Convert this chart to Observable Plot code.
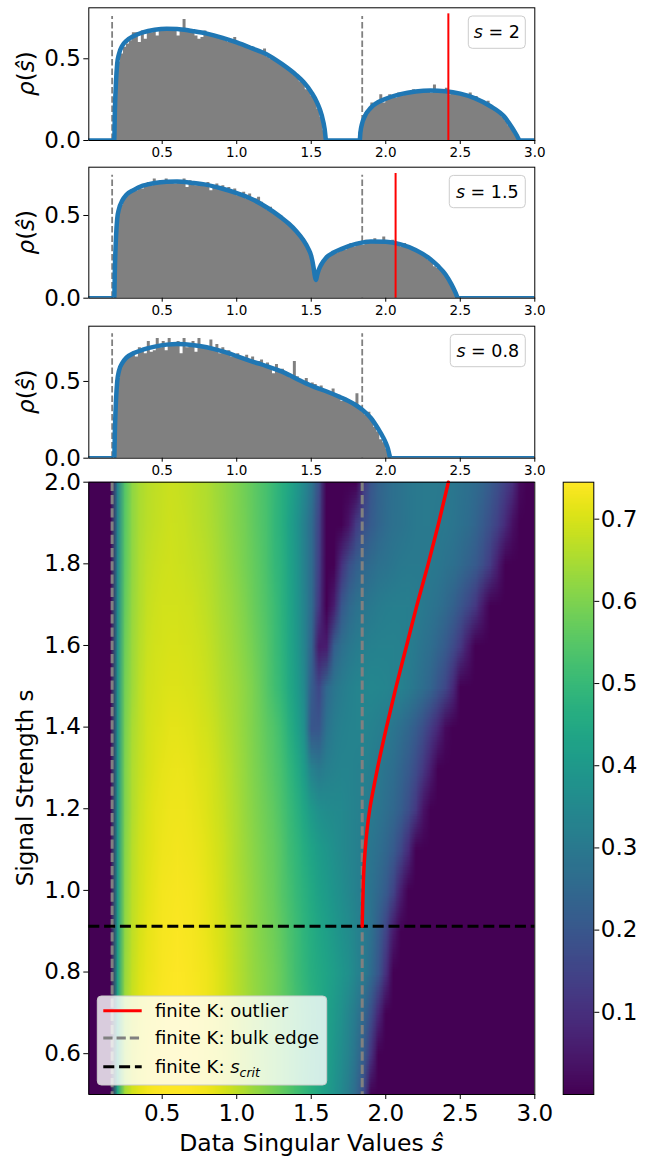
<!DOCTYPE html>
<html><head><meta charset="utf-8">
<script src="https://cdn.jsdelivr.net/npm/d3@7"></script>
<script src="https://cdn.jsdelivr.net/npm/@observablehq/plot@0.6"></script>
<style>
html,body{margin:0;padding:0;background:#fff;}
#root{position:relative;width:645px;height:1168px;font-family:"DejaVu Sans",sans-serif;overflow:hidden;}
.wrap{position:absolute;}
</style></head>
<body><div id="root"></div>
<script>
// ---------------- data ----------------
const xDomain = [0.0075, 3.0];
const xTicks = [0.5, 1.0, 1.5, 2.0, 2.5, 3.0];
const panelYTicks = [0.0, 0.5];
const heatYTicks = [0.6, 0.8, 1.0, 1.2, 1.4, 1.6, 1.8, 2.0];
const cbTicks = [0.1, 0.2, 0.3, 0.4, 0.5, 0.6, 0.7];
const colorDomain = [0, 0.745];
const sDomain = [0.5, 2.0];

const bulkEdges = [0.164, 1.842];
const sCrit = 0.912;

const panelS = ["2", "1.5", "0.8"];
const panelYMax = [0.812, 0.792, 0.86];
const panelOutlier = [2.42, 2.066, null];
const panelOutlierTop = [0.775, 0.754, null];
const panelEdgeTop = [0.759, 0.744, 0.81];

const histStart = 0.18;
const binWidth = 0.02;
const hist1 = [
  0.30,0.48,0.53,0.57,0.59,0.61,0.66,0.66,0.60,0.67,
  0.62,0.66,0.66,0.67,0.64,0.67,0.68,0.67,0.68,0.67,
  0.68,0.64,0.68,0.74,0.68,0.67,0.66,0.64,0.62,0.63,
  0.67,0.66,0.64,0.64,0.63,0.62,0.62,0.61,0.60,0.61,
  0.63,0.59,0.58,0.58,0.57,0.56,0.56,0.55,0.54,0.53,
  0.56,0.51,0.50,0.49,0.48,0.47,0.46,0.44,0.43,0.42,
  0.40,0.39,0.36,0.35,0.31,0.31,0.27,0.25,0.19,0.14,
  0.06,
  0,0,0,0,0,0,0,0,0,0,0,
  0.05,0.11,0.17,0.19,0.23,0.22,0.24,0.28,0.23,0.26,
  0.28,0.27,0.26,0.29,0.27,0.28,0.30,0.29,0.31,0.30,
  0.29,0.31,0.30,0.31,0.29,0.34,0.30,0.31,0.29,0.32,
  0.28,0.30,0.29,0.28,0.29,0.27,0.28,0.29,0.26,0.27,
  0.25,0.24,0.23,0.24,0.21,0.20,0.18,0.16,0.14,0.12,
  0.09,0.07,0.04,0.01
];
const hist2 = [
  0.30,0.50,0.56,0.60,0.62,0.64,0.66,0.65,0.67,0.66,
  0.69,0.70,0.68,0.72,0.69,0.71,0.70,0.72,0.70,0.70,
  0.69,0.71,0.70,0.72,0.67,0.71,0.69,0.68,0.70,0.69,
  0.68,0.70,0.65,0.67,0.69,0.66,0.68,0.65,0.67,0.64,
  0.66,0.62,0.63,0.64,0.60,0.63,0.59,0.60,0.61,0.58,
  0.56,0.53,0.55,0.51,0.50,0.50,0.48,0.47,0.45,0.44,
  0.42,0.40,0.38,0.36,0.32,0.29,0.22,0.12,0.16,0.20,
  0.23,0.25,0.26,0.28,0.27,0.29,0.30,0.29,0.31,0.33,
  0.31,0.33,0.34,0.32,0.35,0.33,0.34,0.36,0.34,0.33,
  0.37,0.34,0.33,0.35,0.32,0.33,0.31,0.33,0.30,0.31,
  0.29,0.28,0.27,0.26,0.25,0.23,0.22,0.19,0.18,0.17,
  0.16,0.13,0.10,0.07,0.03,0.01
];
const hist3 = [
  0.30,0.52,0.60,0.63,0.66,0.67,0.69,0.66,0.72,0.70,
  0.68,0.76,0.69,0.70,0.78,0.72,0.76,0.70,0.78,0.73,
  0.74,0.76,0.68,0.78,0.72,0.74,0.76,0.69,0.78,0.72,
  0.73,0.71,0.77,0.70,0.74,0.68,0.72,0.69,0.70,0.66,
  0.67,0.68,0.66,0.65,0.67,0.64,0.66,0.62,0.63,0.64,
  0.60,0.62,0.59,0.55,0.61,0.57,0.58,0.56,0.55,0.52,
  0.63,0.53,0.51,0.50,0.52,0.47,0.49,0.48,0.46,0.47,
  0.43,0.44,0.42,0.45,0.40,0.41,0.37,0.39,0.38,0.37,
  0.36,0.42,0.32,0.30,0.28,0.30,0.25,0.20,0.17,0.12,
  0.10,0.06,0.02
];

const curve1X = [0.0075,0.178,0.183,0.19,0.198,0.21,0.232,0.26,0.31,0.37,0.45,0.53,0.6,0.7,0.8,0.9,1.0,1.1,1.2,1.3,1.4,1.45,1.5,1.54,1.57,1.59,1.6,1.825,1.83,1.84,1.86,1.9,2.0,2.1,2.2,2.3,2.4,2.5,2.6,2.7,2.8,2.85,2.88,2.9,3.0];
const curve1Y = [0,0,0.2,0.36,0.47,0.53,0.58,0.61,0.64,0.662,0.678,0.684,0.683,0.67,0.654,0.63,0.60,0.565,0.528,0.47,0.40,0.356,0.296,0.23,0.155,0.07,0,0,0.05,0.10,0.15,0.20,0.255,0.284,0.30,0.306,0.302,0.287,0.258,0.211,0.141,0.075,0.03,0,0];
const curve2X = [0.0075,0.178,0.183,0.19,0.198,0.21,0.232,0.26,0.31,0.37,0.45,0.53,0.6,0.7,0.8,0.9,1.0,1.1,1.2,1.3,1.35,1.4,1.45,1.48,1.5,1.515,1.525,1.532,1.54,1.55,1.565,1.6,1.65,1.7,1.8,1.9,2.0,2.1,2.2,2.3,2.35,2.4,2.44,2.47,2.485,3.0];
const curve2Y = [0,0,0.2,0.37,0.48,0.54,0.59,0.625,0.655,0.68,0.697,0.704,0.705,0.697,0.685,0.663,0.635,0.60,0.55,0.487,0.45,0.405,0.347,0.30,0.255,0.19,0.13,0.11,0.14,0.17,0.20,0.245,0.276,0.297,0.328,0.343,0.341,0.325,0.292,0.236,0.195,0.145,0.085,0.03,0,0];
const curve3X = [0.0075,0.178,0.183,0.19,0.198,0.21,0.232,0.26,0.31,0.37,0.45,0.53,0.6,0.65,0.75,0.85,0.95,1.0,1.1,1.2,1.3,1.4,1.5,1.6,1.7,1.75,1.8,1.85,1.9,1.95,1.98,2.0,2.015,2.025,2.03,3.0];
const curve3Y = [0,0,0.2,0.38,0.5,0.57,0.62,0.655,0.685,0.707,0.727,0.74,0.744,0.742,0.731,0.711,0.683,0.665,0.631,0.60,0.566,0.518,0.472,0.436,0.395,0.372,0.345,0.31,0.262,0.19,0.14,0.10,0.06,0.02,0,0];

// outlier trajectory in the (s_hat, s) plane
const outlierS = [0.912,0.93,0.96,1.0,1.05,1.1,1.15,1.2,1.25,1.3,1.4,1.5,1.6,1.7,1.8,1.9,2.0];
const outlierX = [1.842,1.843,1.845,1.848,1.853,1.862,1.875,1.893,1.918,1.945,2.005,2.07,2.14,2.21,2.285,2.355,2.42];

// density heatmap: rows at s = 2.0 ... 0.5 (step 0.1), columns at s_hat = 0.00 ... 3.00 (step 0.05)
const heatS = [2.0,1.9,1.8,1.7,1.6,1.5,1.4,1.3,1.2,1.1,1.0,0.9,0.8,0.7,0.6,0.5];
const heatXStart = 0, heatXEnd = 3, heatCols = 61;
const heatLead = [0,0,0,0];             // s_hat = 0.00 .. 0.15
const heatMain = [                      // s_hat = 0.20 .. 1.20
  [0.33,0.55,0.62,0.65,0.665,0.675,0.68,0.684,0.683,0.678,0.67,0.663,0.655,0.643,0.63,0.615,0.60,0.583,0.565,0.545,0.525],
  [0.34,0.555,0.622,0.652,0.668,0.678,0.683,0.687,0.686,0.681,0.675,0.668,0.659,0.647,0.634,0.619,0.605,0.588,0.57,0.549,0.528],
  [0.35,0.56,0.625,0.655,0.673,0.682,0.687,0.69,0.689,0.685,0.68,0.673,0.664,0.652,0.639,0.624,0.61,0.593,0.574,0.553,0.531],
  [0.36,0.57,0.63,0.66,0.68,0.688,0.693,0.695,0.695,0.692,0.687,0.68,0.671,0.659,0.646,0.632,0.618,0.601,0.582,0.561,0.538],
  [0.37,0.58,0.635,0.665,0.685,0.693,0.698,0.70,0.70,0.698,0.694,0.687,0.679,0.667,0.654,0.641,0.627,0.61,0.592,0.57,0.545],
  [0.38,0.59,0.64,0.67,0.69,0.698,0.703,0.705,0.705,0.703,0.70,0.693,0.685,0.673,0.66,0.648,0.635,0.618,0.60,0.578,0.55],
  [0.38,0.595,0.65,0.675,0.694,0.704,0.71,0.713,0.714,0.712,0.708,0.701,0.693,0.681,0.668,0.654,0.64,0.622,0.604,0.583,0.56],
  [0.385,0.60,0.655,0.68,0.698,0.709,0.716,0.72,0.722,0.72,0.716,0.71,0.702,0.69,0.677,0.661,0.644,0.626,0.607,0.588,0.568],
  [0.39,0.605,0.66,0.685,0.702,0.713,0.721,0.725,0.727,0.725,0.721,0.715,0.707,0.695,0.682,0.666,0.649,0.631,0.613,0.595,0.577],
  [0.395,0.61,0.665,0.69,0.707,0.718,0.726,0.73,0.732,0.73,0.726,0.72,0.712,0.70,0.687,0.671,0.654,0.637,0.619,0.601,0.584],
  [0.40,0.615,0.67,0.695,0.712,0.723,0.731,0.735,0.737,0.735,0.731,0.725,0.717,0.705,0.692,0.675,0.658,0.641,0.623,0.606,0.59],
  [0.41,0.62,0.675,0.70,0.716,0.727,0.735,0.739,0.741,0.739,0.735,0.729,0.721,0.709,0.696,0.679,0.662,0.645,0.627,0.611,0.596],
  [0.42,0.63,0.68,0.705,0.72,0.73,0.738,0.742,0.744,0.742,0.738,0.732,0.725,0.713,0.70,0.682,0.665,0.648,0.63,0.615,0.60],
  [0.43,0.64,0.688,0.712,0.727,0.735,0.741,0.745,0.746,0.744,0.74,0.734,0.727,0.715,0.701,0.685,0.668,0.651,0.633,0.617,0.601],
  [0.44,0.645,0.694,0.717,0.731,0.739,0.744,0.747,0.747,0.745,0.741,0.735,0.727,0.716,0.702,0.687,0.671,0.654,0.636,0.619,0.602],
  [0.44,0.645,0.695,0.718,0.732,0.74,0.745,0.748,0.748,0.746,0.742,0.736,0.728,0.717,0.703,0.688,0.672,0.655,0.637,0.62,0.603]
];
const heatTail = [                      // s_hat = 1.25 onward, zero beyond the last value
  [0.50,0.47,0.44,0.40,0.35,0.29,0.18,0,0,0,0,0,0.12,0.20,0.235,0.255,0.272,0.285,0.294,0.30,0.304,0.306,0.305,0.30,0.294,0.285,0.272,0.258,0.24,0.21,0.18,0.14,0.10,0.02],
  [0.495,0.47,0.43,0.385,0.325,0.26,0.15,0,0,0,0.04,0.13,0.18,0.215,0.24,0.26,0.275,0.285,0.293,0.30,0.303,0.304,0.302,0.298,0.29,0.278,0.262,0.24,0.212,0.18,0.14,0.09,0.03],
  [0.50,0.475,0.435,0.39,0.33,0.26,0.14,0,0,0.10,0.18,0.22,0.245,0.26,0.275,0.285,0.293,0.30,0.303,0.305,0.304,0.30,0.295,0.285,0.272,0.255,0.235,0.21,0.175,0.13,0.06],
  [0.51,0.48,0.44,0.395,0.335,0.26,0.12,0,0.06,0.20,0.25,0.275,0.29,0.30,0.31,0.315,0.318,0.32,0.318,0.312,0.30,0.29,0.275,0.255,0.23,0.20,0.165,0.12,0.05],
  [0.515,0.485,0.445,0.40,0.34,0.24,0.05,0.06,0.22,0.27,0.295,0.31,0.32,0.325,0.328,0.33,0.328,0.325,0.315,0.30,0.285,0.265,0.24,0.21,0.17,0.12,0.05],
  [0.52,0.49,0.45,0.41,0.35,0.22,0.16,0.25,0.29,0.31,0.325,0.335,0.34,0.344,0.342,0.34,0.33,0.325,0.31,0.29,0.265,0.24,0.20,0.16,0.09],
  [0.54,0.51,0.47,0.43,0.37,0.20,0.20,0.28,0.31,0.325,0.333,0.335,0.335,0.33,0.32,0.31,0.29,0.27,0.245,0.215,0.18,0.13,0.08,0.02],
  [0.55,0.525,0.49,0.455,0.41,0.33,0.30,0.32,0.33,0.335,0.335,0.33,0.325,0.315,0.30,0.285,0.265,0.24,0.21,0.17,0.12,0.06],
  [0.56,0.535,0.505,0.475,0.44,0.40,0.37,0.36,0.355,0.35,0.34,0.33,0.32,0.305,0.29,0.27,0.25,0.22,0.18,0.12,0.04],
  [0.57,0.545,0.515,0.49,0.46,0.435,0.41,0.39,0.37,0.355,0.34,0.325,0.31,0.29,0.27,0.245,0.21,0.16,0.09],
  [0.575,0.55,0.525,0.50,0.475,0.45,0.425,0.405,0.385,0.365,0.345,0.325,0.305,0.28,0.25,0.21,0.15,0.06],
  [0.58,0.56,0.535,0.51,0.485,0.46,0.44,0.42,0.40,0.38,0.36,0.335,0.31,0.275,0.22,0.15,0.05],
  [0.585,0.565,0.54,0.515,0.49,0.468,0.45,0.435,0.415,0.395,0.37,0.34,0.31,0.26,0.20,0.10],
  [0.587,0.567,0.548,0.526,0.503,0.48,0.455,0.43,0.403,0.373,0.34,0.30,0.25,0.18,0.08],
  [0.585,0.566,0.546,0.523,0.499,0.475,0.45,0.423,0.395,0.363,0.326,0.28,0.22,0.11],
  [0.585,0.565,0.545,0.52,0.495,0.47,0.445,0.415,0.385,0.35,0.31,0.255,0.17]
];

// ---------------- build ----------------
const root = document.getElementById("root");
const FONT = "DejaVu Sans";
const baseStyle = {fontFamily: FONT, background: "transparent", overflow: "visible"};
const FL = 88.3, FR = 534.3;   // frame left / right (page px)

function place(svg, left, top, width) {
  const w = document.createElement("div");
  w.className = "wrap";
  w.style.left = left + "px"; w.style.top = top + "px"; w.style.width = width + "px";
  w.appendChild(svg);
  root.appendChild(w);
}

const histData = [hist1, hist2, hist3];
const curveX = [curve1X, curve2X, curve3X];
const curveY = [curve1Y, curve2Y, curve3Y];
const panelTop = [0, 160, 318];
const panelMT = [7.3, 6.7, 7.7];
const panelFH = [132.7, 131, 132];

for (let i = 0; i < 3; ++i) {
  const hist = histData[i];
  const steps = hist.map((h, k) => ({x: histStart + k * binWidth, h}))
    .concat([{x: histStart + hist.length * binWidth, h: 0}]);
  const curve = curveX[i].map((x, k) => ({x, y: curveY[i][k]}));
  const mt = panelMT[i], fh = panelFH[i], mb = 28;
  const marks = [
    Plot.areaY(steps, {x: "x", y: "h", curve: "step-after", fill: "gray"}),
    Plot.ruleX(bulkEdges, {y1: 0, y2: panelEdgeTop[i], stroke: "gray", strokeWidth: 1.8, strokeDasharray: "6.5,2.8"}),
    Plot.line(curve, {x: "x", y: "y", stroke: "#1f77b4", strokeWidth: 4.5, curve: "monotone-x", clip: true, strokeLinejoin: "round"})
  ];
  if (panelOutlier[i] != null) marks.push(Plot.ruleX([panelOutlier[i]], {y1: 0, y2: panelOutlierTop[i], stroke: "red", strokeWidth: 2}));
  marks.push(
    Plot.frame({stroke: "black", strokeWidth: 1}),
    Plot.axisX({ticks: xTicks, tickFormat: ".1f", fontSize: 13.5, tickSize: 4, tickPadding: 3, label: null}),
    Plot.axisY({ticks: panelYTicks, tickFormat: ".1f", fontSize: 23, tickSize: 5, tickPadding: 3, label: null})
  );
  const svg = Plot.plot({
    width: 645, height: mt + fh + mb,
    marginLeft: FL, marginRight: 645 - FR, marginTop: mt, marginBottom: mb,
    x: {domain: xDomain, label: null},
    y: {domain: [0, panelYMax[i]], label: null},
    style: baseStyle,
    marks
  });
  const s = d3.select(svg);
  const yl = s.append("text")
    .attr("transform", `translate(26,${mt + fh / 2}) rotate(-90)`)
    .attr("text-anchor", "middle").attr("dy", "0.35em")
    .style("font-family", FONT).style("font-size", "23px").attr("fill", "black");
  yl.append("tspan").style("font-style", "italic").text("ρ");
  yl.append("tspan").text("(");
  yl.append("tspan").style("font-style", "italic").text("ŝ");
  yl.append("tspan").text(")");
  const lw = [57, 76, 75][i], lh = 32.3, lx = FR - 9 - lw, ly = mt + 8.7;
  s.append("rect").attr("x", lx).attr("y", ly).attr("width", lw).attr("height", lh).attr("rx", 4)
    .attr("fill", "white").attr("fill-opacity", 0.8).attr("stroke", "#cccccc").attr("stroke-width", 1);
  const lt = s.append("text").attr("x", lx + lw / 2).attr("y", ly + lh / 2).attr("dy", "0.36em")
    .attr("text-anchor", "middle").style("font-family", FONT).style("font-size", "17.5px").attr("fill", "black");
  lt.append("tspan").style("font-style", "italic").text("s");
  lt.append("tspan").text(" = " + panelS[i]);
  place(svg, 0, panelTop[i], 645);
}

// ---------- heatmap ----------
const heatValues = heatS.flatMap((s, r) => {
  const row = heatLead.concat(heatMain[r], heatTail[r]);
  while (row.length < heatCols) row.push(0);
  return row.slice(0, heatCols);
});
const dx = (heatXEnd - heatXStart) / (heatCols - 1);
const ds = heatS[0] - heatS[1];
const outlier = outlierS.map((s, k) => ({x: outlierX[k], s}));
const HT = 470, HMT = 11.7, HFH = 612.3, HMB = 74;
const heat = Plot.plot({
  width: 645, height: HMT + HFH + HMB,
  marginLeft: FL, marginRight: 645 - FR, marginTop: HMT, marginBottom: HMB,
  x: {domain: xDomain, label: null},
  y: {domain: sDomain, label: null},
  color: {type: "linear", scheme: "viridis", domain: colorDomain},
  style: baseStyle,
  marks: [
    Plot.raster(heatValues, {
      width: heatCols, height: heatS.length,
      x1: heatXStart - dx / 2, x2: heatXEnd + dx / 2,
      y1: heatS[0] + ds / 2, y2: heatS[heatS.length - 1] - ds / 2,
      fill: d => d, clip: true, imageRendering: "auto"
    }),
    Plot.ruleX(bulkEdges, {stroke: "gray", strokeWidth: 3, strokeDasharray: "9.25,4"}),
    Plot.ruleY([sCrit], {stroke: "black", strokeWidth: 3, strokeDasharray: "11,4.8"}),
    Plot.line(outlier, {x: "x", y: "s", stroke: "red", strokeWidth: 3.5, curve: "monotone-y"}),
    Plot.frame({stroke: "black", strokeWidth: 1}),
    Plot.axisX({ticks: xTicks, tickFormat: ".1f", fontSize: 23, tickSize: 5, tickPadding: 5, label: null}),
    Plot.axisY({ticks: heatYTicks, tickFormat: ".1f", fontSize: 23, tickSize: 5, tickPadding: 3, label: null})
  ]
});
{
  const s = d3.select(heat);
  s.append("text").attr("transform", `translate(25,${HMT + HFH / 2}) rotate(-90)`)
    .attr("text-anchor", "middle").attr("dy", "0.35em")
    .style("font-family", FONT).style("font-size", "23px").attr("fill", "black")
    .text("Signal Strength s");
  const xl = s.append("text").attr("x", (FL + FR) / 2).attr("y", 1143 - HT).attr("dy", "0.35em")
    .attr("text-anchor", "middle").style("font-family", FONT).style("font-size", "23.5px").attr("fill", "black");
  xl.append("tspan").text("Data Singular Values ");
  xl.append("tspan").style("font-style", "italic").text("ŝ");
  const bx = 97.3, by = 996 - HT, bw = 229.4, bh = 89;
  s.append("rect").attr("x", bx).attr("y", by).attr("width", bw).attr("height", bh).attr("rx", 4)
    .attr("fill", "white").attr("fill-opacity", 0.8).attr("stroke", "#cccccc").attr("stroke-width", 1);
  const rows = [
    {y: 1010.7 - HT, stroke: "red", dash: null, label: ["finite K: outlier"]},
    {y: 1038 - HT, stroke: "gray", dash: "9.25,4", label: ["finite K: bulk edge"]},
    {y: 1066.7 - HT, stroke: "black", dash: "11,4.8", label: ["finite K: ", "s", "crit"]}
  ];
  for (const r of rows) {
    const ln = s.append("line").attr("x1", 103.3).attr("x2", 141.7).attr("y1", r.y).attr("y2", r.y)
      .attr("stroke", r.stroke).attr("stroke-width", 3);
    if (r.dash) ln.attr("stroke-dasharray", r.dash);
    const t = s.append("text").attr("x", 155).attr("y", r.y).attr("dy", "0.36em")
      .attr("text-anchor", "start")
      .style("font-family", FONT).style("font-size", "18px").attr("fill", "black");
    t.append("tspan").text(r.label[0]);
    if (r.label.length > 1) {
      t.append("tspan").style("font-style", "italic").text(r.label[1]);
      t.append("tspan").style("font-style", "italic").style("font-size", "12.5px").attr("dy", "4").text(r.label[2]);
    }
  }
}
place(heat, 0, HT, 645);

// ---------- colorbar ----------
const cb = Plot.plot({
  width: 105, height: HMT + HFH + HMB,
  marginLeft: 22.7, marginRight: 51.7, marginTop: HMT, marginBottom: HMB,
  x: {domain: [0, 1], axis: null},
  y: {domain: colorDomain, label: null},
  color: {type: "linear", scheme: "viridis", domain: colorDomain},
  style: baseStyle,
  marks: [
    Plot.raster({fill: (x, y) => y, x1: 0, x2: 1, y1: colorDomain[1], y2: colorDomain[0], width: 2, height: 600, imageRendering: "auto"}),
    Plot.frame({stroke: "black", strokeWidth: 1}),
    Plot.axisY({anchor: "right", ticks: cbTicks, tickFormat: ".1f", fontSize: 23, tickSize: 5, tickPadding: 2, label: null})
  ]
});
place(cb, 540, HT, 105);
</script>
</body></html>
